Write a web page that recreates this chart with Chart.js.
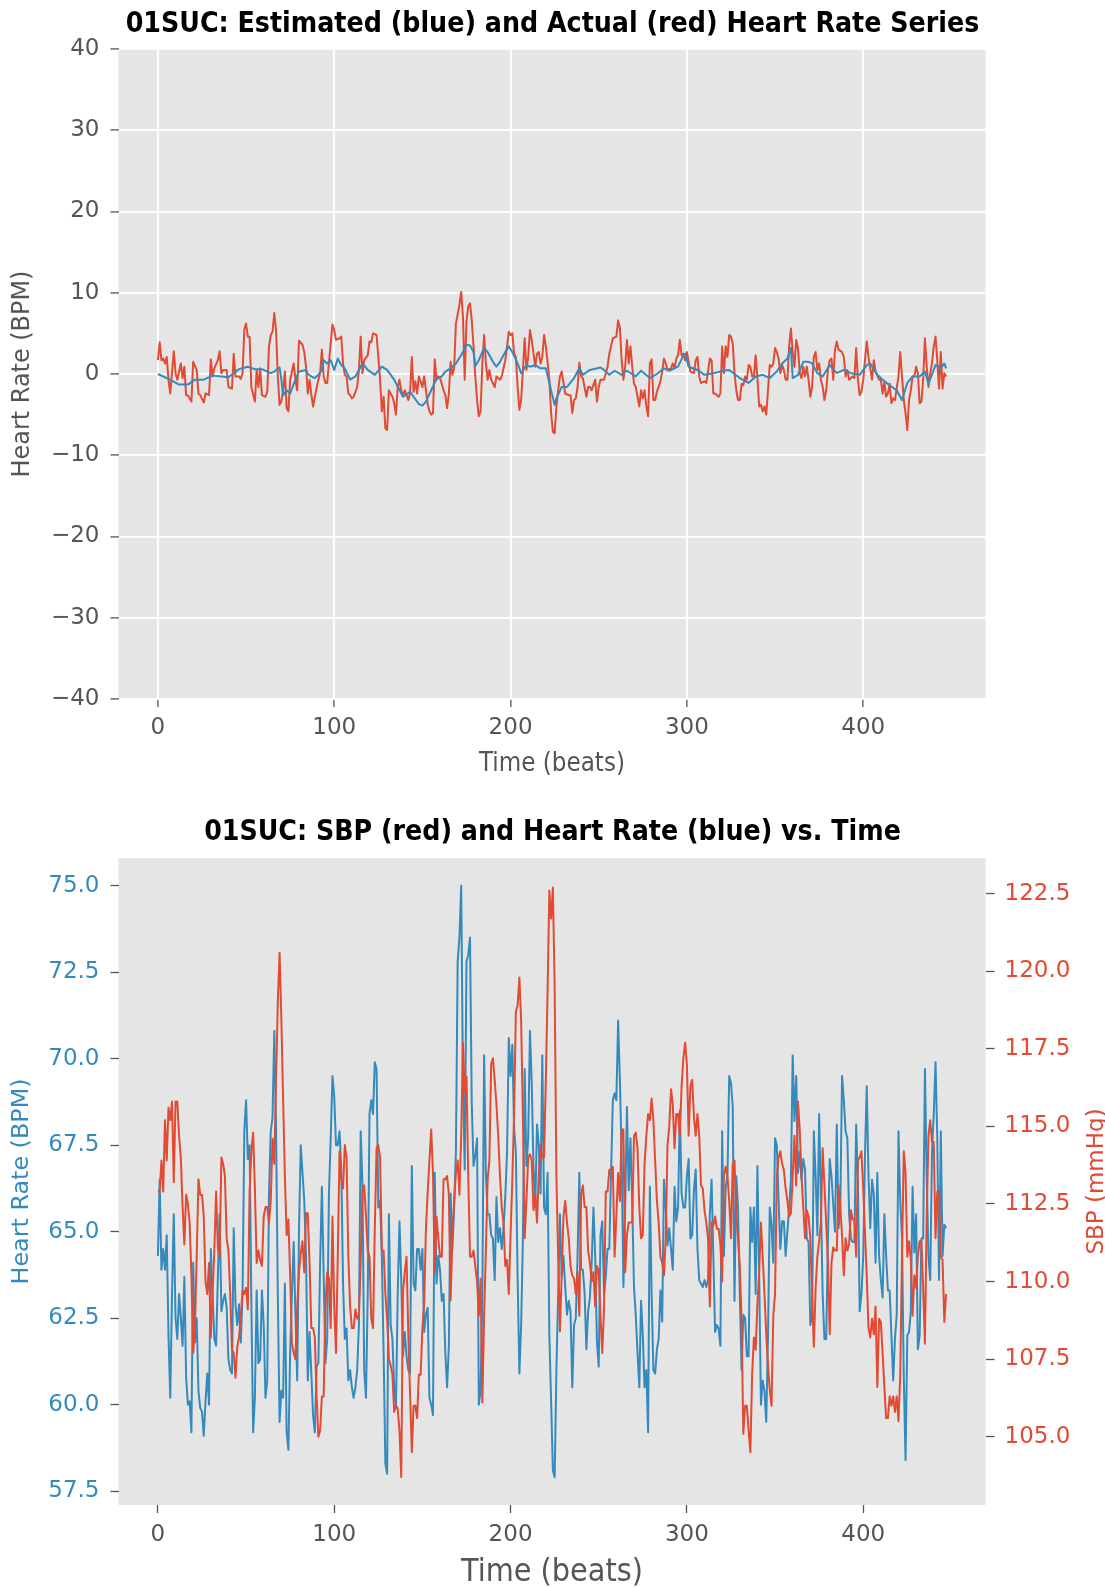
<!DOCTYPE html>
<html>
<head>
<meta charset="utf-8">
<script src="https://cdn.jsdelivr.net/npm/chart.js@4.4.1/dist/chart.umd.min.js"></script>
<style>
  body { margin: 0; background: #ffffff; }
  #page { position: relative; width: 1105px; height: 1588px; }
  canvas { position: absolute; left: 0; }
</style>
</head>
<body>
<div id="page">
  <canvas id="hrDiffChart" width="1105" height="780" style="top:0px"></canvas>
  <canvas id="sbpHrChart" width="1105" height="808" style="top:780px"></canvas>
</div>
<script>
// ---- data ----
const timeTicks = [0, 100, 200, 300, 400];
const diffTicks = [-40, -30, -20, -10, 0, 10, 20, 30, 40];
const hrTicks = [57.5, 60, 62.5, 65, 67.5, 70, 72.5, 75];
const sbpTicks = [105, 107.5, 110, 112.5, 115, 117.5, 120, 122.5];

// top chart: actual (red) heart rate deviation
const actualBeats = [
  0,1,2,3,4,5,6,7,9,10, 11,13,14,15,16,17,19,20,22,23,
  24,26,27,29,30,31,32,34,35,36, 37,39,40,42,43,44,46,47,48,49,
  50,51,52,53,55,56,57,58,59,61, 62,63,64,65,66,67,68,69,70,71,
  72,73,74,75,77,78,79,80,82,83, 84,85,86,87,88,89,91,92,93,94,
  95,96,98,99,100,101,103,104,105,106, 107,108,109,110,111,113,114,115,116,117,
  119,120,121,122,124,125,126,127,128,129, 130,131,133,134,135,136,137,138,139,140,
  142,143,144,145,146,147,148,150,151,152, 153,154,155,156,157,158,159,160,162,163,
  164,165,166,167,168,169,171,172,173,174, 175,176,177,178,179,180,181,182,183,184,
  185,186,187,188,189,191,192,193,194,195, 196,197,198,199,200,201,202,203,204,205,
  206,207,208,209,210,211,212,214,215,216, 217,218,219,220,221,222,223,224,225,226,
  227,228,229,231,233,234,235,236,237,238, 239,240,241,243,244,245,246,248,249,250,
  251,253,254,255,256,258,259,260,261,262, 263,264,265,266,267,268,269,270,271,272,
  273,274,275,276,277,278,279,280,281,282, 283,285,286,287,288,289,291,292,293,294,
  295,296,297,298,299,300,301,302,304,305, 306,307,308,310,311,312,313,314,315,316,
  318,319,320,321,322,323,324,325,326,327, 328,329,330,331,332,333,334,335,336,337,
  338,339,340,341,342,343,344,345,346,347, 348,349,350,351,352,353,354,355,356,357,
  358,359,360,361,362,363,364,365,366,367, 368,369,370,371,372,373,374,375,376,377,
  378,379,380,381,382,383,384,385,386,388, 389,390,391,392,394,395,396,397,398,399,
  400,401,402,403,405,406,407,409,410,411, 412,413,414,415,416,417,418,420,421,422,
  423,424,425,426,427,428,429,430,431,432, 433,434,435,436,437,438,439,440,441,442,
  443,444,445,446,447
];
const actualHr = [
  1.7,3.9,1.7,1.9,1.3,2.1,-0.7,-2.4,2.8,0.1, -0.7,1.3,-0.5,0.9,-2.6,-2.6,-3.4,1.5,0.5,-2.4,
  -2.6,-3.5,-2.4,-2.6,1.8,-0.3,0.7,1.7,2.8,0.1, 0.5,0.5,-1.6,-1.8,2.5,-0.3,-0.3,-0.6,0.1,5.5,
  6.2,4.6,4.6,-1.6,-3.4,0.5,-1.6,0.7,-2.6,-2.8, -2.2,3.4,4.8,5.2,7.5,5.4,-0.3,-3.8,-3.4,-2.0,
  0.3,-4.2,-4.6,-0.7,1.3,-0.7,-2.0,4.1,3.6,2.7, 0.9,-2.4,-0.7,-2.5,-4.0,-2.8,-0.7,0.1,3.0,-0.3,
  -1.1,-1.1,3.8,6.1,5.4,4.2,4.4,4.6,1.3,-0.1, -0.3,-2.4,-2.6,-3.0,-2.8,-1.6,0.5,4.6,0.1,1.7,
  2.3,4.0,3.9,5.0,4.8,2.1,-0.7,-4.6,-2.8,-6.7, -6.9,-2.0,-2.8,-3.6,-5.0,-1.6,-0.7,-2.0,-2.6,-2.0,
  -3.2,-2.4,2.1,-2.2,-0.9,-2.4,-0.3,-1.6,-0.3,-2.0, -3.7,-4.6,-5.0,-4.8,1.8,-0.7,-0.3,-0.5,-2.0,-2.6,
  -4.2,-2.4,1.5,-0.1,0.7,6.2,8.5,10.1,7.0,-0.7, 6.5,8.3,8.7,6.6,3.4,-0.3,-3.2,-5.2,-4.6,1.3,
  4.8,1.3,-0.7,0.5,-0.7,-1.6,-0.3,-0.5,-0.7,-0.3, 0.7,1.7,3.4,5.2,4.8,5.0,2.5,2.1,-1.6,-4.4,
  -3.2,0.5,4.4,0.5,2.1,5.4,4.2,0.9,2.5,2.7, 1.3,2.1,4.8,3.4,1.5,-0.7,-4.8,-7.1,-7.3,-4.0,
  -2.0,-0.3,0.3,-2.4,-2.6,-2.6,-4.8,-3.2,-3.0,-1.6, 1.4,-0.3,-0.5,-2.8,-1.6,-1.6,-2.0,-0.7,-3.4,-1.6,
  -0.7,-0.7,0.1,0.9,2.5,4.4,4.5,4.6,6.6,5.7, 1.7,-0.7,0.9,4.2,1.3,3.4,0.9,-1.2,-1.6,-2.8,
  -4.0,-2.0,-3.0,-2.0,-4.0,-5.2,1.3,1.8,-3.2,-3.2, -2.2,-0.9,0.3,1.9,1.3,0.5,0.7,1.3,0.7,1.9,
  2.3,4.2,2.3,2.5,1.7,2.7,1.5,0.3,0.1,1.7, 2.1,-0.3,-1.1,-0.9,-1.1,0.3,1.9,1.7,-2.4,-2.4,
  -2.8,-2.4,3.4,0.1,3.4,2.1,4.8,4.6,3.8,0.1, -2.0,-3.2,-3.2,-1.2,-1.4,-0.3,-0.7,1.1,0.9,-0.3,
  -0.3,2.3,-0.5,-4.0,-3.8,-4.6,-4.0,-5.0,-2.0,1.1, 0.9,1.3,3.2,2.7,1.9,0.1,1.1,0.5,-0.7,-0.7,
  3.4,5.6,2.7,0.9,4.2,3.2,0.1,-0.5,0.9,-0.3, 0.9,-0.7,-2.8,-1.6,2.1,2.7,0.5,1.3,-0.7,-1.6,
  -3.2,-2.0,0.5,1.7,1.9,-0.7,3.0,4.0,3.0,2.7, 2.1,-0.3,0.5,-0.7,-0.3,-0.5,3.2,-0.7,-2.6,-2.2,
  -0.7,1.7,4.0,2.1,-0.7,1.7,0.3,-0.7,-0.7,-2.4, -1.0,-2.8,-2.4,-1.2,-3.6,-3.0,-3.2,-0.3,2.7,-0.3,
  -3.2,-4.8,-6.9,-3.2,-2.0,-0.3,-0.3,0.9,0.1,-3.6, -3.4,-0.7,4.4,0.9,-1.6,0.1,1.3,3.4,4.6,1.7,
  -1.8,2.7,-1.8,0.1,-0.3
];

// top chart: estimated (blue) heart rate deviation
const estimateBeats = [
  0,6,12,17,21,26,31,36,40,46, 51,55,59,64,66,69,70,71,73,75,
  78,80,84,85,87,89,91,93,94,96, 98,100,102,104,106,109,112,114,116,119,
  123,127,130,134,139,143,145,148,150,152, 155,158,161,163,166,169,172,175,177,179,
  180,182,185,187,190,192,194,197,199,201, 204,206,209,211,214,217,220,222,225,226,
  229,232,236,239,241,245,251,253,256,259, 263,266,271,274,279,283,287,290,295,298,
  299,301,306,310,315,321,324,330,335,339, 343,347,351,354,357,359,360,363,366,369,
  371,374,377,381,385,389,393,398,402,404, 408,411,415,419,422,425,428,432,435,437,
  441,444,446,447
];
const estimateHr = [
  0,-0.6,-1.3,-1.3,-0.7,-0.7,-0.2,-0.3,-0.4,0.6, 0.9,0.6,0.6,0.1,0.3,0.8,-0.7,-2.6,-2.0,-2.4,
  -0.7,0.3,0.5,0,-0.3,-0.5,-0.1,0.5,1.7,1.3, 1.7,0.5,1.9,1.1,0.7,-0.7,-0.3,0.5,1.3,0.5,
  -0.1,0.9,0.5,-0.7,-2.8,-2.2,-2.8,-3.7,-3.9,-3.4, -2.0,-0.6,-0.3,0.3,0.7,1.3,2.3,3.6,3.5,2.7,
  1.0,1.7,3.2,2.7,1.5,0.9,1.5,2.7,3.4,2.7, 1.3,0.1,1.1,0.9,1.1,0.7,0.7,-1.1,-3.8,-3.0,
  -1.6,-1.6,-0.5,0.7,-0.1,0.5,0.8,0.5,-0.1,0.4, -0.1,0.4,-0.3,0.4,-0.5,0,0.7,0.4,0.9,2.3,
  2.5,0.9,0.5,-0.1,0.1,0.4,0.5,-0.5,-1.1,-0.3, -0.1,-0.5,0.3,1.3,1.9,3.2,-0.5,-0.1,1.5,1.5,
  1.3,0.1,-0.3,1.1,0.1,0.5,0.1,-0.1,1.1,1.3, -0.1,-0.7,-1.4,-2.0,-3.2,-1.1,-0.3,-0.3,0.3,-1.2,
  1.1,0.7,1.3,0.7
];

// bottom chart: heart rate (blue) per beat, beats 0..447
const heartRate = [
  64.3,66.5,63.9,64.5,63.9,64.9,62.0,60.2,63.2,65.5,62.5,61.9,63.2,62.5,61.7,63.7,60.8,60.0,60.1,59.2,
  64.1,61.8,62.5,60.4,59.9,59.8,59.1,60.1,60.9,60.0,64.5,63.2,61.9,61.7,63.7,65.5,62.7,63.0,63.2,62.8,
  61.3,61.0,60.9,65.1,62.9,62.3,62.9,61.8,63.2,67.9,68.8,67.1,67.5,62.9,59.2,60.2,63.3,61.2,61.3,63.3,
  62.3,60.2,60.7,66.1,67.9,68.3,70.8,68.0,63.2,59.5,60.4,60.2,63.5,59.2,58.7,61.5,63.2,64.7,62.6,60.7,
  65.0,67.5,66.7,65.9,64.3,60.7,62.1,60.9,59.7,59.2,61.1,61.2,64.1,66.3,63.8,61.2,61.9,66.1,67.7,69.5,
  68.9,67.5,67.5,67.9,66.8,63.5,61.9,62.2,60.7,61.0,60.5,60.2,60.5,61.0,62.3,67.9,66.4,61.0,60.2,63.2,
  68.4,68.8,68.4,69.9,69.7,65.7,65.9,64.3,61.5,58.3,58.0,65.5,62.3,61.9,60.5,59.9,63.2,65.3,63.6,61.4,
  62.1,61.4,61.0,60.9,66.9,63.5,63.3,64.5,64.5,63.9,64.5,62.1,62.6,62.8,60.2,60.0,59.7,66.7,63.5,64.3,
  63.9,63.0,63.2,61.5,60.5,61.7,66.1,64.5,65.7,67.3,72.8,73.5,75.0,69.4,66.8,72.8,73.0,73.5,68.7,66.9,
  67.2,67.7,60.0,60.4,63.2,70.1,66.7,65.5,65.5,64.9,64.8,63.6,66.0,64.7,65.1,64.5,65.1,66.0,67.3,70.6,
  69.5,70.4,68.0,67.3,63.7,60.9,62.3,64.8,69.7,66.9,67.7,70.8,69.3,66.9,65.7,68.1,67.5,66.1,70.1,65.7,
  65.5,66.7,62.0,60.1,58.1,57.9,61.0,63.2,65.5,63.7,64.3,63.4,62.6,63.0,62.7,60.5,62.3,62.5,64.3,66.7,
  63.9,63.9,63.2,61.6,62.7,63.1,64.1,65.7,64.3,61.8,61.1,64.9,65.3,63.2,63.7,64.5,64.5,66.7,68.8,69.0,
  68.8,71.1,69.4,67.2,63.4,65.7,68.6,66.2,67.7,65.8,63.4,62.6,61.5,60.5,63.0,62.0,60.5,61.0,59.2,66.3,
  63.2,61.0,60.9,61.6,61.9,63.3,62.4,66.5,65.7,64.6,65.1,64.5,63.9,66.3,65.3,65.7,68.5,66.1,65.7,65.7,
  66.6,67.1,64.8,64.9,66.2,66.8,64.5,63.6,63.5,63.4,63.6,63.4,63.6,65.5,66.5,64.3,62.1,62.3,62.2,61.7,
  67.9,64.3,66.3,66.6,69.5,69.3,68.6,63.0,66.6,65.7,63.2,61.0,62.6,62.5,61.4,61.4,65.7,64.7,65.7,63.2,
  66.9,63.7,60.0,60.7,60.4,59.5,62.0,65.7,65.2,64.1,67.7,67.5,65.9,64.5,65.3,65.3,64.3,65.0,65.7,66.5,
  70.1,68.2,69.5,66.7,67.3,66.5,67.1,66.8,64.8,64.7,62.3,62.6,67.9,66.6,64.9,68.4,65.9,63.2,61.9,61.9,
  64.8,67.1,66.6,65.8,65.0,68.1,65.1,65.7,69.5,68.8,67.9,67.7,65.5,64.8,64.7,64.7,68.1,66.4,62.7,63.2,
  64.3,67.2,69.2,66.6,65.1,66.5,66.1,64.1,66.7,64.3,63.6,63.1,65.5,64.3,63.3,63.3,62.0,60.7,61.9,62.6,
  67.9,65.9,64.8,60.8,58.4,62.0,62.1,62.7,66.3,64.4,65.5,61.6,62.0,64.8,64.8,69.7,66.6,64.3,63.6,67.3,
  68.4,69.9,67.7,63.6,67.9,64.3,65.2,65.1
];

// bottom chart: systolic blood pressure (red) per beat, beats 0..447
const sbp = [
  112.9,112.9,113.9,112.9,115.2,113.9,115.6,115.2,115.8,113.2,115.8,115.8,114.7,114.0,112.4,111.2,112.8,112.5,111.9,110.2,
  107.7,108.5,110.8,113.3,112.8,112.8,112.1,110.0,109.6,110.6,108.2,109.6,111.0,112.9,111.1,110.8,114.0,113.8,113.4,111.4,
  111.0,109.6,107.8,107.7,106.9,107.9,108.2,108.9,109.7,109.6,109.8,109.1,112.9,114.2,114.8,113.0,110.6,111.0,110.7,110.5,
  112.1,112.4,112.4,111.9,112.6,114.6,113.8,116.5,119.0,120.6,118.5,115.9,113.4,111.5,112.0,110.2,108.0,107.7,107.5,109.2,
  110.3,110.9,111.3,110.3,112.2,112.2,110.6,108.5,108.5,108.2,106.3,105.0,105.2,106.3,106.3,109.2,110.3,110.1,108.5,112.1,
  109.2,107.7,110.8,114.2,113.3,113.0,114.4,114.0,110.8,109.2,108.5,108.5,109.1,108.8,108.9,110.6,112.9,113.1,112.1,111.0,
  110.8,108.8,108.5,111.7,114.3,114.4,114.0,111.0,111.0,109.6,108.8,107.5,107.3,107.0,105.8,106.0,105.9,105.2,103.7,109.7,
  110.3,110.8,108.3,106.4,104.5,106.0,106.0,105.6,107.0,107.0,108.5,109.3,111.7,112.9,113.9,114.9,113.5,110.3,112.1,111.4,
  110.8,110.8,113.3,113.3,113.4,112.8,109.4,111.4,112.6,113.5,113.9,112.8,114.7,117.7,116.1,116.6,113.4,110.8,110.8,111.0,
  110.5,110.0,108.9,110.1,106.1,108.9,111.0,113.3,113.9,117.0,117.2,116.5,115.7,114.7,113.4,112.4,111.9,110.5,110.7,109.6,
  111.5,113.3,115.4,118.7,118.9,119.8,118.4,115.3,111.4,112.6,114.0,114.1,113.9,112.3,112.8,111.9,113.5,114.4,114.0,114.0,
  116.5,119.4,122.6,121.7,122.7,119.5,113.4,110.8,108.4,110.2,112.1,112.6,111.9,111.4,110.5,110.2,110.1,109.6,110.3,108.9,
  112.8,113.1,112.4,112.4,111.0,110.6,110.0,110.3,109.2,110.5,110.3,108.9,107.7,109.1,112.9,112.9,113.6,113.6,113.7,110.8,
  112.1,113.5,112.6,114.9,114.9,110.3,111.5,111.9,111.9,111.9,114.7,114.8,114.3,112.4,111.4,111.5,113.8,114.7,115.4,115.2,
  115.9,115.2,113.9,112.6,111.9,110.8,110.6,110.2,111.4,114.4,115.0,116.2,115.7,114.3,115.4,115.4,114.7,116.3,117.2,117.7,
  117.0,114.7,116.3,116.5,115.3,114.7,115.4,114.7,113.1,113.0,112.3,111.9,111.4,109.2,111.9,111.8,112.1,111.7,111.7,111.2,
  110.0,113.4,113.7,113.4,112.6,111.4,113.8,113.9,112.1,111.4,110.5,108.8,105.1,106.0,106.0,105.2,104.5,107.0,108.2,107.8,
  109.3,110.3,111.9,110.8,109.6,108.3,107.3,106.5,106.0,108.9,109.6,113.4,114.0,114.2,113.8,113.6,113.0,112.6,112.1,112.2,
  113.4,114.7,113.1,115.8,114.9,113.4,112.4,111.4,112.3,112.1,111.4,109.6,107.9,109.8,110.8,111.3,111.9,114.3,113.1,111.9,
  110.6,108.3,110.6,111.1,111.0,111.0,113.1,112.4,111.5,110.2,111.4,111.0,111.2,112.3,112.0,112.0,110.8,113.9,114.0,114.2,
  113.0,111.6,110.2,108.5,108.2,108.8,108.3,109.2,106.6,108.8,108.7,107.7,106.6,105.6,105.6,106.3,106.0,106.3,105.8,106.3,
  105.5,107.0,110.8,114.2,113.5,110.8,111.3,110.7,108.9,110.2,109.8,110.8,111.3,111.3,109.8,108.0,112.1,114.7,115.2,114.5,
  114.5,111.4,112.9,112.9,110.8,110.7,108.7,109.6
];

// ---- styling ----
const RED = '#E24A33';
const BLUE = '#348ABD';
const INK = '#555555';
const PANEL = '#E5E5E5';
const SANS = "'DejaVu Sans', sans-serif";
const NARROW = "'DejaVu Sans Condensed', 'Liberation Sans Narrow', 'DejaVu Sans', sans-serif";

function fitSize(text, family, weight, width) {
  const c = document.createElement('canvas').getContext('2d');
  c.font = weight + ' 100px ' + family;
  return 100 * width / c.measureText(text).width;
}

const toPoints = (xs, ys) => xs.map((x, i) => ({ x: x, y: ys[i] }));
const minus = v => (v < 0 ? '\u2212' + Math.abs(v) : String(v));
const setTicks = list => scale => { scale.ticks = list.map(v => ({ value: v })); };

const panelBackground = {
  id: 'panelBackground',
  beforeDraw(chart) {
    const a = chart.chartArea;
    const ctx = chart.ctx;
    ctx.save();
    ctx.fillStyle = PANEL;
    ctx.fillRect(a.left, a.top, a.right - a.left, a.bottom - a.top);
    ctx.restore();
  }
};

Chart.defaults.font.family = SANS;
Chart.defaults.animation = false;

// ---- top chart ----
const title1 = '01SUC: Estimated (blue) and Actual (red) Heart Rate Series';
const title2 = '01SUC: SBP (red) and Heart Rate (blue) vs. Time';
const titleSize = fitSize(title1, NARROW, 'bold', 854);
const xTitle1 = fitSize('Time (beats)', NARROW, 'normal', 146);
const xTitle2 = fitSize('Time (beats)', NARROW, 'normal', 182);
const yTitle1 = fitSize('Heart Rate (BPM)', SANS, 'normal', 207);
const yTitle2 = fitSize('Heart Rate (BPM)', SANS, 'normal', 206);

new Chart(document.getElementById('hrDiffChart'), {
  type: 'line',
  data: {
    datasets: [{
      label: 'Estimated',
      data: toPoints(estimateBeats, estimateHr),
      borderColor: BLUE,
      borderWidth: 2,
      pointRadius: 0,
      borderJoinStyle: 'round'
    }, {
      label: 'Actual',
      data: toPoints(actualBeats, actualHr),
      borderColor: RED,
      borderWidth: 2,
      pointRadius: 0,
      borderJoinStyle: 'round'
    }]
  },
  options: {
    responsive: false,
    layout: { padding: 0 },
    plugins: {
      legend: { display: false },
      tooltip: { enabled: false },
      title: {
        display: true,
        text: title1,
        color: '#000000',
        font: { family: NARROW, size: titleSize, weight: 'bold', lineHeight: 1.2 },
        padding: { top: 25 - 0.6 * titleSize, bottom: 24 - 0.6 * titleSize }
      }
    },
    scales: {
      x: {
        type: 'linear',
        min: -22.35,
        max: 469.35,
        afterBuildTicks: setTicks(timeTicks),
        afterFit: s => { s.height = 81; },
        border: { display: false },
        grid: { color: '#ffffff', lineWidth: 1.8, tickColor: INK, tickWidth: 1.3, tickLength: 8 },
        ticks: { color: INK, font: { size: 23 }, padding: 7, maxRotation: 0, autoSkip: false },
        title: {
          display: true, text: 'Time (beats)', color: INK,
          font: { family: NARROW, size: xTitle1, lineHeight: 1.2 },
          padding: { top: 0, bottom: 15.5 - 0.6 * xTitle1 }
        }
      },
      y: {
        min: -40,
        max: 40,
        afterBuildTicks: setTicks(diffTicks),
        afterFit: s => { s.width = 118.5; },
        border: { display: false },
        grid: { color: '#ffffff', lineWidth: 1.8, tickColor: INK, tickWidth: 1.3, tickLength: 8 },
        ticks: { color: INK, font: { size: 23 }, padding: 11, callback: v => minus(v) },
        title: {
          display: true, text: 'Heart Rate (BPM)', color: INK,
          font: { size: yTitle1, lineHeight: 1.2 },
          padding: { top: 22.3 - 0.6 * yTitle1, bottom: 0 }
        }
      },
      // empty right margin, same width as the twin axis below
      yMargin: {
        position: 'right',
        afterFit: s => { s.width = 119.5; },
        border: { display: false },
        grid: { display: false },
        ticks: { display: false }
      }
    }
  },
  plugins: [panelBackground]
});

// ---- bottom chart ----
const sbpAxisLabel = {
  id: 'sbpAxisLabel',
  afterDraw(chart) {
    const a = chart.chartArea;
    const ctx = chart.ctx;
    ctx.save();
    ctx.font = '23px ' + SANS;
    ctx.fillStyle = RED;
    ctx.textAlign = 'center';
    ctx.textBaseline = 'middle';
    ctx.translate(1097, (a.top + a.bottom) / 2);
    ctx.rotate(-Math.PI / 2);
    ctx.fillText('SBP (mmHg)', 0, 0);
    ctx.restore();
  }
};

const beatIndex = heartRate.map((_, i) => i);

new Chart(document.getElementById('sbpHrChart'), {
  type: 'line',
  data: {
    datasets: [{
      label: 'SBP',
      data: toPoints(beatIndex, sbp),
      yAxisID: 'y1',
      borderColor: RED,
      borderWidth: 2,
      pointRadius: 0,
      borderJoinStyle: 'round'
    }, {
      label: 'Heart Rate',
      data: toPoints(beatIndex, heartRate),
      yAxisID: 'y',
      borderColor: BLUE,
      borderWidth: 2,
      pointRadius: 0,
      borderJoinStyle: 'round'
    }]
  },
  options: {
    responsive: false,
    layout: { padding: 0 },
    plugins: {
      legend: { display: false },
      tooltip: { enabled: false },
      title: {
        display: true,
        text: title2,
        color: '#000000',
        font: { family: NARROW, size: titleSize, weight: 'bold', lineHeight: 1.2 },
        padding: { top: 53 - 0.6 * titleSize, bottom: 25 - 0.6 * titleSize }
      }
    },
    scales: {
      x: {
        type: 'linear',
        min: -22.35,
        max: 469.35,
        afterBuildTicks: setTicks(timeTicks),
        afterFit: s => { s.height = 83; },
        border: { display: false },
        grid: { drawOnChartArea: false, tickColor: INK, tickWidth: 1.3, tickLength: 8 },
        ticks: { color: INK, font: { size: 23 }, padding: 8, maxRotation: 0, autoSkip: false },
        title: {
          display: true, text: 'Time (beats)', color: INK,
          font: { family: NARROW, size: xTitle2, lineHeight: 1.2 },
          padding: { top: 0, bottom: 15 - 0.6 * xTitle2 }
        }
      },
      y: {
        position: 'left',
        min: 57.1,
        max: 75.8,
        afterBuildTicks: setTicks(hrTicks),
        afterFit: s => { s.width = 118.5; },
        border: { display: false },
        grid: { drawOnChartArea: false, tickColor: INK, tickWidth: 1.3, tickLength: 8 },
        ticks: { color: BLUE, font: { size: 23 }, padding: 11, callback: v => v.toFixed(1) },
        title: {
          display: true, text: 'Heart Rate (BPM)', color: BLUE,
          font: { size: yTitle2, lineHeight: 1.2 },
          padding: { top: 22.3 - 0.6 * yTitle2, bottom: 0 }
        }
      },
      y1: {
        position: 'right',
        min: 102.8,
        max: 123.65,
        afterBuildTicks: setTicks(sbpTicks),
        afterFit: s => { s.width = 119.5; },
        border: { display: false },
        grid: { drawOnChartArea: false, tickColor: INK, tickWidth: 1.3, tickLength: 9 },
        ticks: { color: RED, font: { size: 23 }, padding: 10, callback: v => v.toFixed(1) },
        title: { display: false }
      }
    }
  },
  plugins: [panelBackground, sbpAxisLabel]
});
</script>
</body>
</html>
